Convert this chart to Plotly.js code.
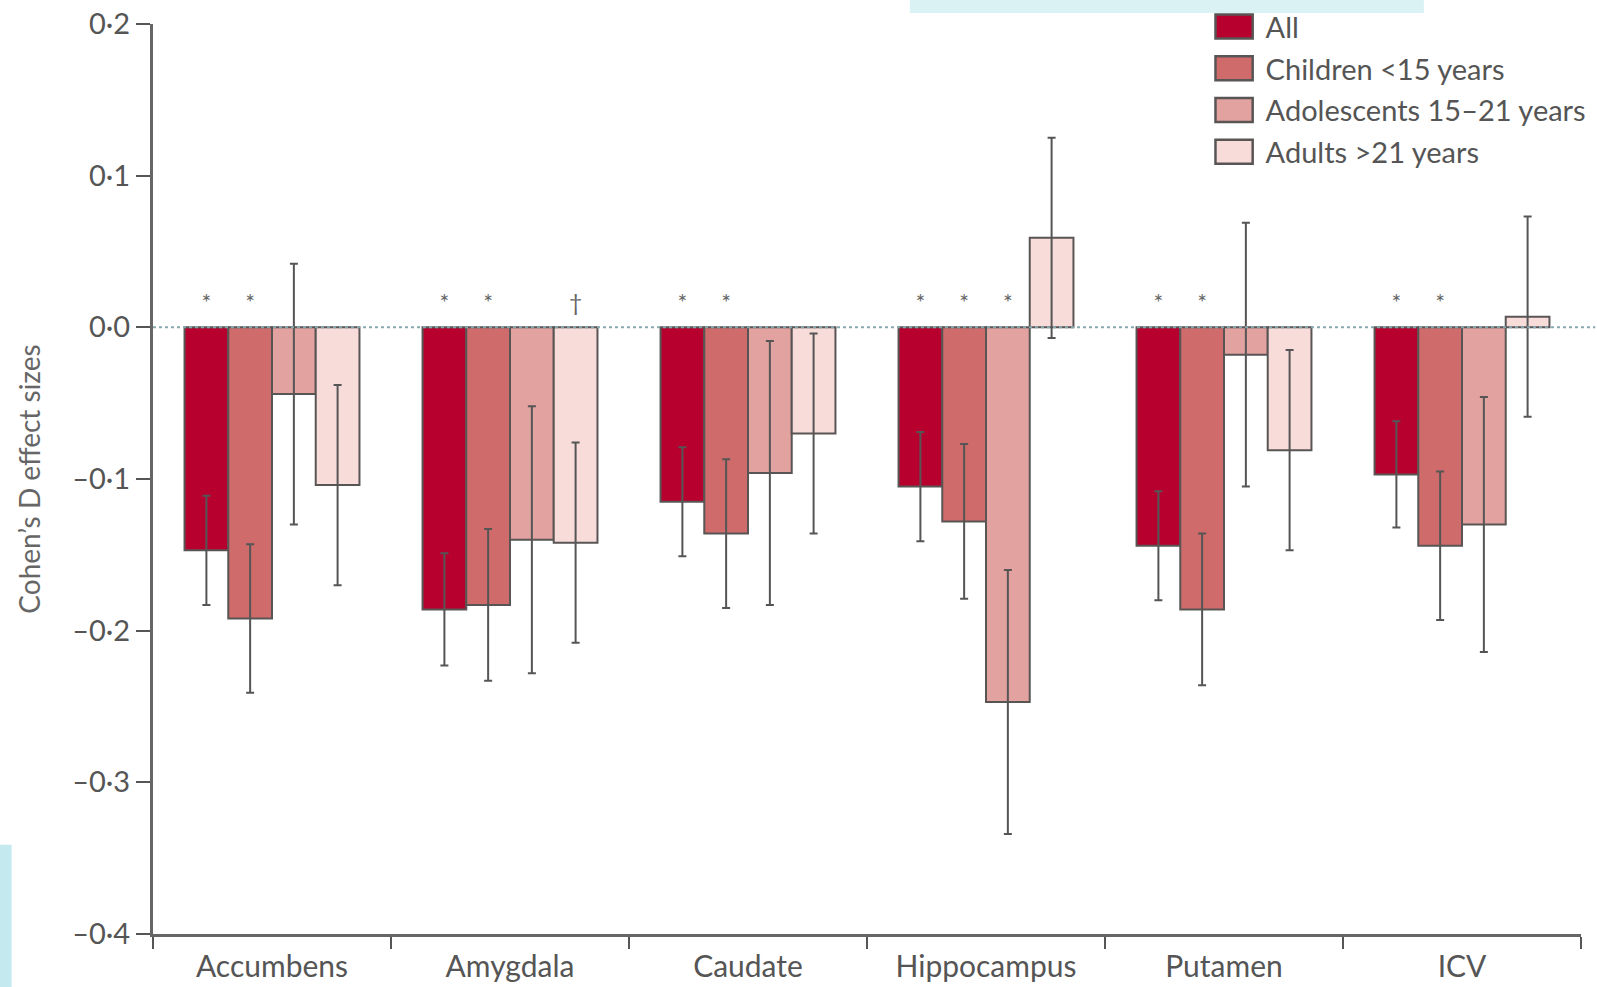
<!DOCTYPE html>
<html>
<head>
<meta charset="utf-8">
<script src="https://cdn.plot.ly/plotly-3.0.1.min.js"></script>
<style>html,body{margin:0;padding:0;background:#fff;}#chart{width:1597px;height:987px;}</style>
</head>
<body>
<div id="chart"></div>
<script>
// ---- data ----
var regions = ["Accumbens", "Amygdala", "Caudate", "Hippocampus", "Putamen", "ICV"];
var seriesNames = ["All", "Children <15 years", "Adolescents 15–21 years", "Adults >21 years"];

var allVals      = [-0.147, -0.186, -0.115, -0.105, -0.144, -0.097];
var childVals    = [-0.192, -0.183, -0.136, -0.128, -0.186, -0.144];
var adolVals     = [-0.044, -0.140, -0.096, -0.247, -0.018, -0.130];
var adultVals    = [-0.104, -0.142, -0.070,  0.059, -0.081,  0.007];

var allErr       = [0.036, 0.037, 0.036, 0.036, 0.036, 0.035];
var childErr     = [0.049, 0.050, 0.049, 0.051, 0.050, 0.049];
var adolErr      = [0.086, 0.088, 0.087, 0.087, 0.087, 0.084];
var adultErr     = [0.066, 0.066, 0.066, 0.066, 0.066, 0.066];

// significance marks per series ("" = none)
var allSig   = ["*", "*", "*", "*", "*", "*"];
var childSig = ["*", "*", "*", "*", "*", "*"];
var adolSig  = ["", "", "", "*", "", ""];
var adultSig = ["", "†", "", "", "", ""];

var yTickVals = [0.2, 0.1, 0.0, -0.1, -0.2, -0.3, -0.4];
var yTickText = ["0·2", "0·1", "0·0", "–0·1", "–0·2", "–0·3", "–0·4"];

// ---- style ----
var colors = ["#b8002f", "#cf6b6b", "#e2a29f", "#f7dcda"];
var outline = "#5a5555";
var textCol = "#555555";
var FONT = "Lato, 'Open Sans', sans-serif";
var sigLevel = 0.0143;

var vals = [allVals, childVals, adolVals, adultVals];
var errs = [allErr, childErr, adolErr, adultErr];
var sigs = [allSig, childSig, adolSig, adultSig];

var traces = [];
for (var i = 0; i < 4; i++) {
  traces.push({
    type: "bar",
    name: seriesNames[i],
    legendgroup: "lg" + i,
    x: regions,
    y: vals[i],
    offsetgroup: "g" + i,
    marker: {color: colors[i], line: {color: outline, width: 2}},
    error_y: {type: "data", array: errs[i], visible: true, color: "#555555", thickness: 2, width: 4},
    hoverinfo: "x+y+name"
  });
}
for (var i = 0; i < 4; i++) {
  traces.push({
    type: "scatter",
    mode: "text",
    x: regions,
    y: sigs[i].map(function (s) { return s ? sigLevel : null; }),
    text: sigs[i],
    textposition: "middle center",
    textfont: {family: FONT, size: 23, color: "#666666"},
    offsetgroup: "g" + i,
    showlegend: false,
    hoverinfo: "skip",
    cliponaxis: false
  });
}

var layout = {
  width: 1597, height: 987,
  margin: {l: 153, r: 16, t: 24, b: 53, autoexpand: false},
  paper_bgcolor: "#ffffff",
  plot_bgcolor: "rgba(0,0,0,0)",
  font: {family: FONT, color: textCol, size: 28},
  barmode: "group",
  bargap: 0.265,
  bargroupgap: 0,
  scattermode: "group",
  scattergap: 0.265,
  showlegend: true,
  legend: {
    x: 0.742, y: 1.025, xanchor: "left", yanchor: "top",
    bgcolor: "rgba(0,0,0,0)",
    font: {family: FONT, size: 29, color: textCol},
    itemwidth: 43,
    traceorder: "grouped",
    tracegroupgap: 1
  },
  xaxis: {
    type: "category",
    range: [-0.5, 5.5],
    showline: true, linecolor: "#666666", linewidth: 3,
    ticks: "outside", tickson: "boundaries", ticklen: 12, tickwidth: 2, tickcolor: "#555555",
    ticklabelstandoff: 4,
    showgrid: false, zeroline: false,
    tickfont: {family: FONT, size: 30, color: textCol},
    fixedrange: true
  },
  yaxis: {
    range: [-0.4, 0.2],
    tickvals: yTickVals, ticktext: yTickText,
    showline: true, linecolor: "#666666", linewidth: 3,
    ticks: "outside", ticklen: 14, tickwidth: 2, tickcolor: "#555555",
    showgrid: false, zeroline: false,
    tickfont: {family: FONT, size: 29, color: textCol},
    title: {text: "Cohen’s D effect sizes", font: {family: FONT, size: 28, color: "#666666"}, standoff: 24},
    fixedrange: true
  },
  shapes: [
    {type: "line", xref: "paper", yref: "y", x0: 0, x1: 1.01, y0: 0, y1: 0,
     line: {color: "#88a8b0", width: 2, dash: "dot"}, layer: "above"},
    {type: "rect", xref: "paper", yref: "paper", x0: 0.53, x1: 0.89, y0: 1.012, y1: 1.03,
     fillcolor: "#dbf2f5", line: {width: 0}, layer: "below"},
    {type: "rect", xref: "paper", yref: "paper", x0: -0.108, x1: -0.099, y0: -0.06, y1: 0.098,
     fillcolor: "#c4e9ef", line: {width: 0}, layer: "below"}
  ]
};

Plotly.newPlot("chart", traces, layout, {displayModeBar: false, staticPlot: true}).then(function (gd) {
  var pts = gd.querySelectorAll(".legend .legendpoints path");
  pts.forEach(function (p) {
    var orig = p.getAttribute("transform") || "";
    p.setAttribute("transform", orig + " translate(-5,0) scale(3.1,2)");
    p.setAttribute("vector-effect", "non-scaling-stroke");
    p.style.strokeWidth = "2.5px";
  });
});
</script>
</body>
</html>
